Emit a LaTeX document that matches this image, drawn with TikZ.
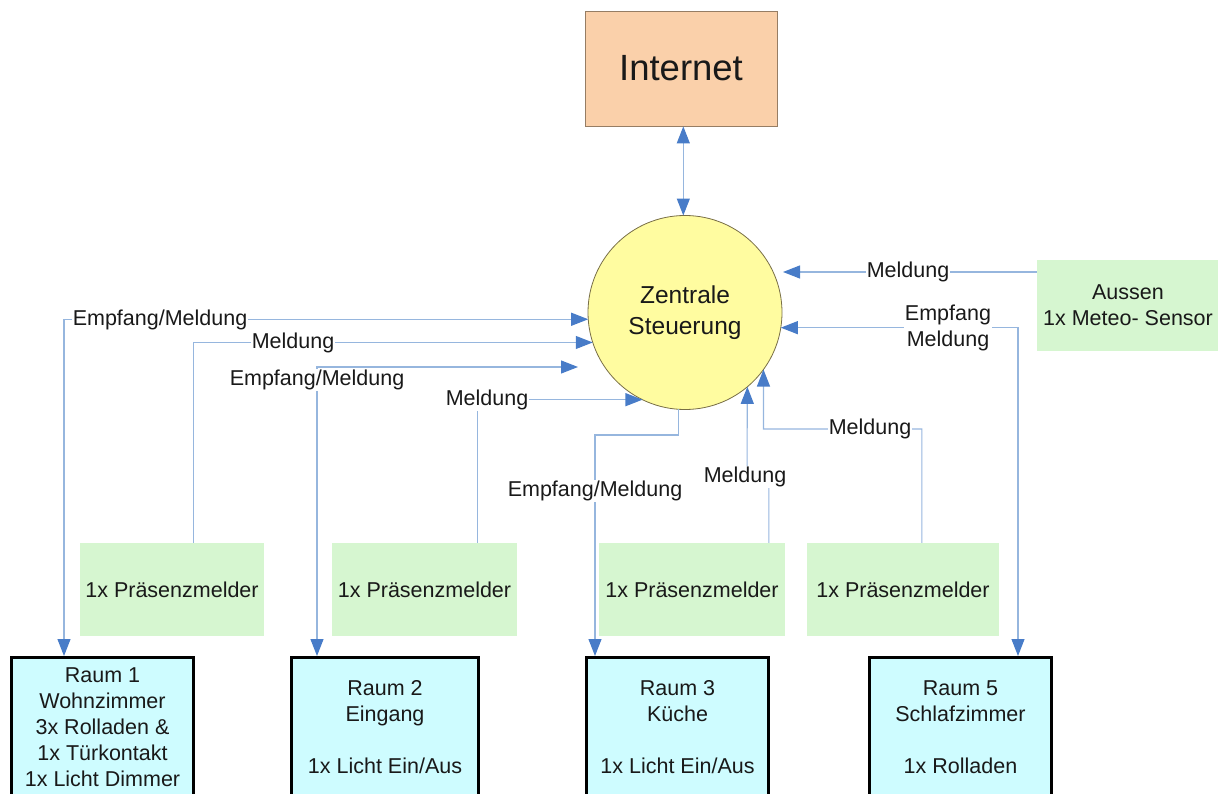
\documentclass[tikz,border=0pt]{standalone}
\usepackage{fontspec}
\setmainfont{Liberation Sans}
\usetikzlibrary{arrows.meta,calc}

\definecolor{inetfill}{RGB}{250,208,170}
\definecolor{inetdraw}{RGB}{150,125,100}
\definecolor{ctrlfill}{RGB}{255,252,160}
\definecolor{ctrldraw}{RGB}{120,110,70}
\definecolor{sensfill}{RGB}{214,246,208}
\definecolor{roomfill}{RGB}{206,252,255}
\definecolor{wire}{RGB}{150,182,222}
\definecolor{tipblue}{RGB}{72,124,200}
\definecolor{ink}{RGB}{25,25,25}

\begin{document}
\begin{tikzpicture}[x=1pt,y=-1pt,
  >={Triangle[length=17pt,width=13pt,color=tipblue]},
  txt/.style={font=\fontsize{21.5}{26}\selectfont, text=ink, align=center},
  sensor/.style={txt, fill=sensfill, inner sep=0pt, minimum width=#1, minimum height=93pt},
  room/.style={txt, fill=roomfill, draw=black, line width=3pt, inner sep=0pt,
               minimum width=#1, minimum height=139pt},
  conn/.style={draw=wire, line width=1.1pt},
  lbl/.style={txt, fill=white, inner sep=0.5pt}]

\useasboundingbox (0,0) rectangle (1218,794);

% central controller and internet uplink
\node[draw=inetdraw, fill=inetfill, line width=0.8pt, minimum width=192pt,
      minimum height=115pt, inner sep=0pt, font=\fontsize{36.5}{40}\selectfont,
      text=ink] (inet) at (681,68.5) {Internet};
\node[circle, draw=ctrldraw, fill=ctrlfill, line width=0.8pt, minimum size=194pt,
      inner sep=0pt, outer sep=0pt, font=\fontsize{24.5}{31}\selectfont,
      text=ink, align=center] (zs) at (685,312.5) {Zentrale\\Steuerung};

% sensors
\node[sensor=184pt] (p1) at (172,589.5)   {1x Präsenzmelder};
\node[sensor=185pt] (p2) at (424.5,589.5) {1x Präsenzmelder};
\node[sensor=186pt] (p3) at (692,589.5)   {1x Präsenzmelder};
\node[sensor=192pt] (p4) at (903,589.5)   {1x Präsenzmelder};
\node[txt, fill=sensfill, inner sep=0pt, minimum width=182pt, minimum height=91pt]
      (aus) at (1128,305.5) {Aussen\\1x Meteo- Sensor};

% rooms
\node[room=182pt] (r1) at (102.5,727) {Raum 1\\Wohnzimmer\\3x Rolladen \&\\1x Türkontakt\\1x Licht Dimmer};
\node[room=187pt] (r2) at (385,727)   {Raum 2\\Eingang\\\mbox{}\\1x Licht Ein/Aus};
\node[room=182pt] (r3) at (677.5,727) {Raum 3\\Küche\\\mbox{}\\1x Licht Ein/Aus};
\node[room=182pt] (r5) at (960.5,727) {Raum 5\\Schlafzimmer\\\mbox{}\\1x Rolladen};

% bend points and free ends of the wiring
\coordinate (e3) at (578,367);
\coordinate (k5) at (595,435);
\coordinate (k6) at (747,477);
\coordinate (k7) at (763.5,429);
\coordinate (e8) at (783,272);

% wiring
\draw[conn,<->] (inet.south -| zs.91) -- (zs.91);
\draw[conn,<->] (zs.184) -| ([xshift=54pt]r1.north west);
\draw[conn,->]  ([xshift=114pt]p1.north west) |- (zs.198);
\draw[conn,<->] (e3) -| ([xshift=27pt]r2.north west);
\draw[conn,->]  ([xshift=146pt]p2.north west) |- (zs.244);
\draw[conn,->]  (zs.266) |- (k5) -- ([xshift=10pt]r3.north west);
\draw[conn,->]  ([xshift=170pt]p3.north west) |- (k6) -- (zs.310);
\draw[conn,->]  ([xshift=115pt]p4.north west) |- (k7) -- (zs.324);
\draw[conn,->]  (aus.west |- e8) -- (e8);
\draw[conn,<->] (zs.351) -| ([xshift=150pt]r5.north west);

% wire labels
\node[lbl] (l1) at (160,320) {Empfang/Meldung};
\node[lbl] (l2) at (293,343) {Meldung};
\node[lbl] (l3) at (317,380) {Empfang/Meldung};
\node[lbl] (l4) at (487,400) {Meldung};
\node[lbl] (l5) at (595,491) {Empfang/Meldung};
\node[lbl] (l6) at (745,477) {Meldung};
\node[lbl] (l7) at (870,429) {Meldung};
\node[lbl] (l8) at (908,272) {Meldung};
\node[lbl] (l9) at (948,328) {Empfang\\Meldung};
\end{tikzpicture}
\end{document}
